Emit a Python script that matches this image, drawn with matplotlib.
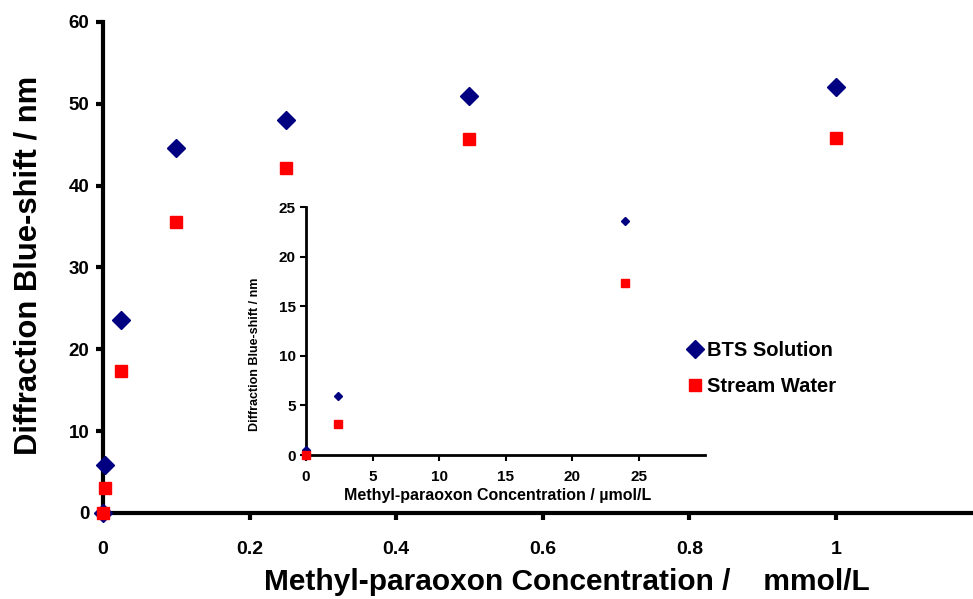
import matplotlib.pyplot as plt

# data (mmol/L for the main plot, umol/L for the inset)
conc_mmol = [0, 0.0024, 0.024, 0.1, 0.25, 0.5, 1.0]
bts_main = [0.0, 5.9, 23.6, 44.6, 48.0, 50.9, 52.0]
stream_main = [0.0, 3.1, 17.4, 35.6, 42.2, 45.7, 45.8]

conc_umol = [0, 2.4, 24]
bts_inset = [0.5, 5.9, 23.6]
stream_inset = [0.0, 3.1, 17.3]

main_xticks = [0, 0.2, 0.4, 0.6, 0.8, 1.0]
main_xticklabels = ['0', '0.2', '0.4', '0.6', '0.8', '1']
main_yticks = [0, 10, 20, 30, 40, 50, 60]
inset_xticks = [0, 5, 10, 15, 20, 25]
inset_yticks = [0, 5, 10, 15, 20, 25]

navy = '#000080'
red = '#FF0000'

plt.rcParams['font.family'] = ['Liberation Sans', 'DejaVu Sans']
plt.rcParams['font.weight'] = 'bold'

fig = plt.figure(figsize=(9.73, 5.99), dpi=100)

# main axes
ax = fig.add_axes([0.1059, 0.1436, 0.8941, 0.8197])
ax.plot(conc_mmol, bts_main, 'D', color=navy, markersize=9, label='BTS Solution', clip_on=False, zorder=3)
ax.plot(conc_mmol, stream_main, 's', color=red, markersize=9, label='Stream Water', clip_on=False, zorder=3)
ax.set_xlim(0, 1.187)
ax.set_ylim(0, 60)
ax.set_xticks(main_xticks)
ax.set_xticklabels(main_xticklabels, fontsize=14, fontweight='bold')
ax.set_yticks(main_yticks)
ax.tick_params(axis='y', labelsize=13.5, width=3, length=5, direction='out', pad=5)
ax.tick_params(axis='x', width=3, length=5, direction='out', pad=15)
for s in ['top', 'right']:
    ax.spines[s].set_visible(False)
for s in ['left', 'bottom']:
    ax.spines[s].set_linewidth(3)
ax.set_ylabel('Diffraction Blue-shift / nm', fontsize=22.3, fontweight='bold')
ax.yaxis.set_label_coords(-0.068, 0.505)
ax.set_xlabel('Methyl-paraoxon Concentration /    mmol/L', fontsize=21.5, fontweight='bold')
ax.xaxis.set_label_coords(0.533, -0.112)

ax.legend(loc='center left', bbox_to_anchor=(0.685, 0.385), bbox_transform=fig.transFigure,
          frameon=False, handletextpad=0.1, labelspacing=0.85,
          handlelength=1.0, prop={'weight': 'bold', 'size': 14.5})

# inset axes
ins = fig.add_axes([0.3145, 0.2404, 0.4101, 0.414])
ins.set_facecolor('none')
ins.plot(conc_umol, bts_inset, 'D', color=navy, markersize=4.5, clip_on=False, zorder=3)
ins.plot(conc_umol, stream_inset, 's', color=red, markersize=6, clip_on=False, zorder=3)
ins.set_xlim(0, 30)
ins.set_ylim(0, 25)
ins.set_xticks(inset_xticks)
ins.set_yticks(inset_yticks)
ins.tick_params(labelsize=11, width=1.5, length=4, direction='out')
ins.tick_params(axis='x', pad=7)
for s in ['top', 'right']:
    ins.spines[s].set_visible(False)
for s in ['left', 'bottom']:
    ins.spines[s].set_linewidth(2)
ins.set_ylabel('Diffraction Blue-shift / nm', fontsize=9, fontweight='bold')
ins.yaxis.set_label_coords(-0.112, 0.407)
ins.set_xlabel('Methyl-paraoxon Concentration / \u00b5mol/L', fontsize=11.5, fontweight='bold')
ins.xaxis.set_label_coords(0.479, -0.135)

fig.savefig('out.png', dpi=100)
